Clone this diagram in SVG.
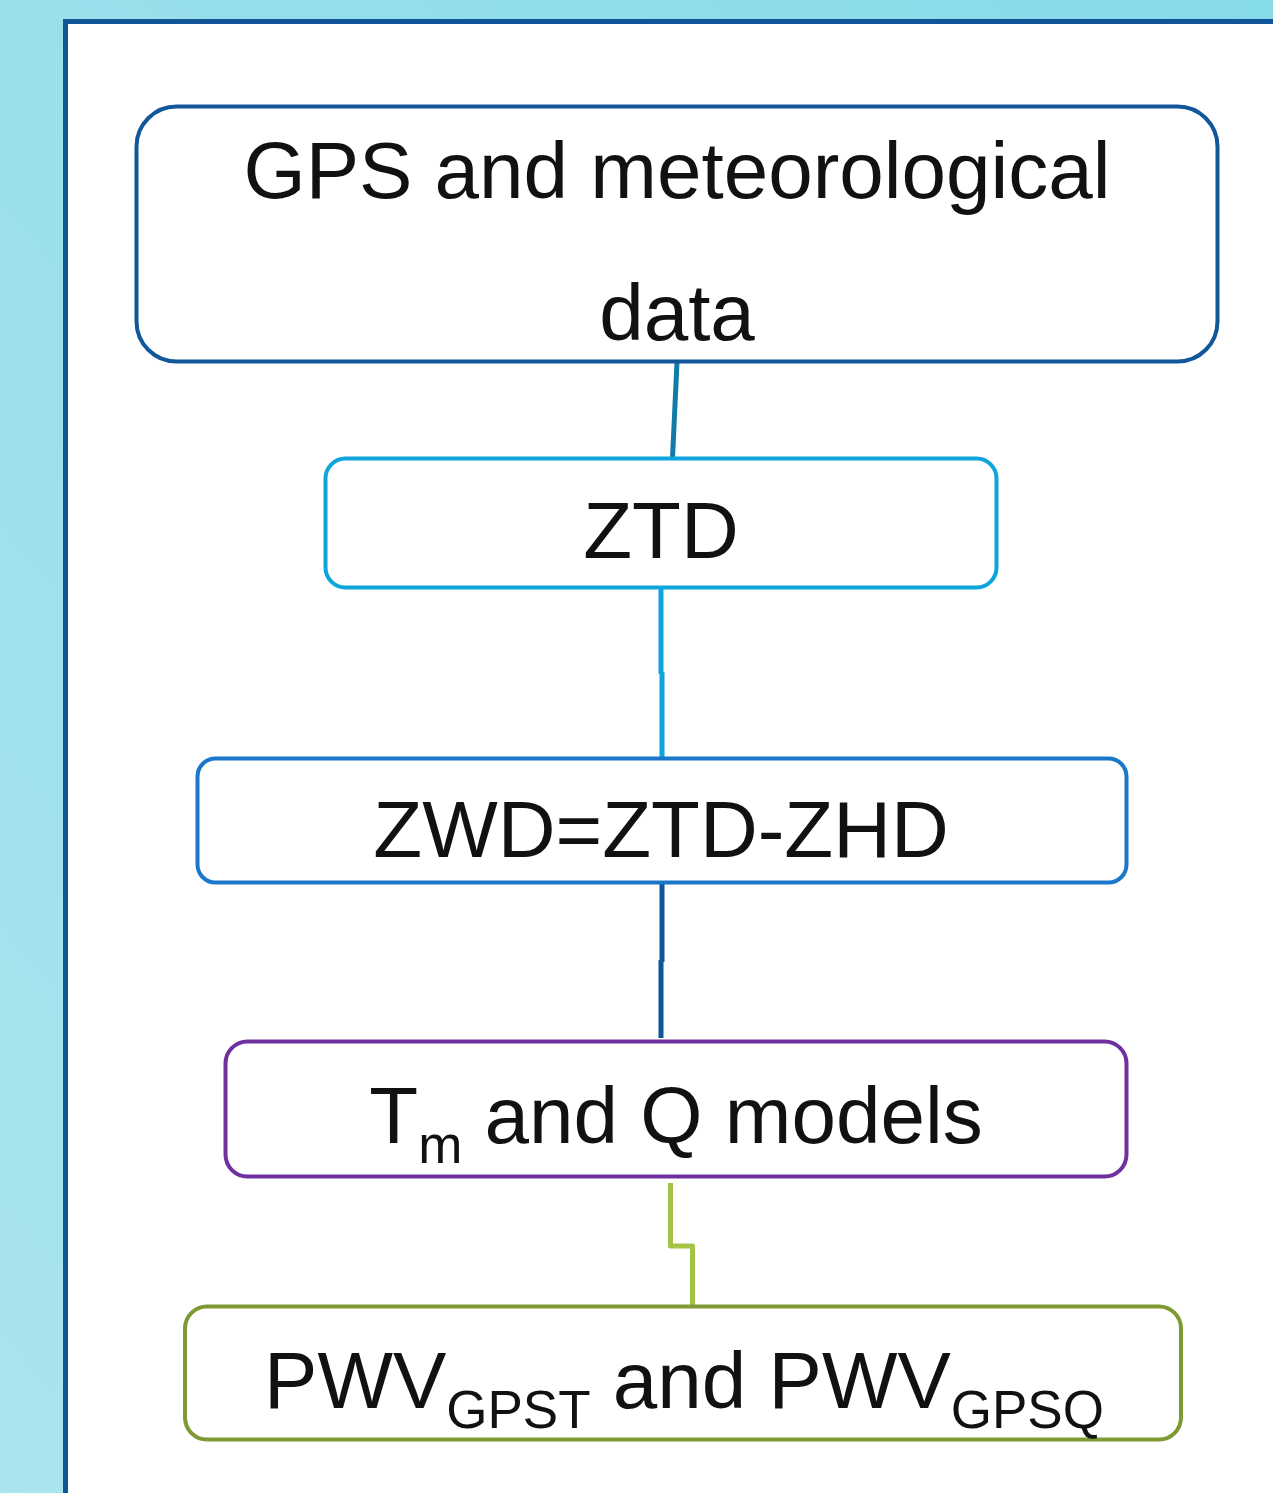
<svg xmlns="http://www.w3.org/2000/svg" width="1273" height="1493" viewBox="0 0 1273 1493">
<defs>
<linearGradient id="bg" x1="1" y1="0" x2="0" y2="1">
<stop offset="0" stop-color="#86dbe9"/>
<stop offset="1" stop-color="#abe4ee"/>
</linearGradient>
</defs>
<style>
.node{fill:#ffffff;stroke-width:4}
.lbl{font-family:"Liberation Sans",Arial,sans-serif;font-size:80px;fill:#111111;text-anchor:middle}
.sub{font-size:53px}
.conn{fill:none;stroke-width:5;stroke-linejoin:round}
</style>
<rect x="0" y="0" width="1273" height="1493" fill="url(#bg)"/>
<rect x="65.5" y="21.5" width="1300" height="1500" fill="#ffffff" stroke="#0f5597" stroke-width="5"/>
<g id="connectors">
<path class="conn" d="M677,362 L672.5,458" stroke="#0f7ca5"/>
<path class="conn" d="M661,588 L661,674 M662,672 L662,758" stroke="#0ea5dc"/>
<path class="conn" d="M662,884 L662,962 M661,960 L661,1038" stroke="#0f5597"/>
<path class="conn" d="M670.5,1183 L670.5,1246 L692.5,1246 L692.5,1308" stroke="#a4c246"/>
</g>
<g id="node1">
<rect class="node" x="136.5" y="106.5" width="1081" height="255" rx="40" stroke="#11579a"/>
<text class="lbl" x="677" y="198">GPS and meteorological</text>
<text class="lbl" x="677" y="340">data</text>
</g>
<g id="node2">
<rect class="node" x="325.5" y="458.5" width="671" height="129" rx="20" stroke="#0ea5dc"/>
<text class="lbl" x="661" y="558">ZTD</text>
</g>
<g id="node3">
<rect class="node" x="197.5" y="758.5" width="929" height="124" rx="18" stroke="#1a77c9"/>
<text class="lbl" x="661" y="857">ZWD=ZTD-ZHD</text>
</g>
<g id="node4">
<rect class="node" x="225.5" y="1041.5" width="901" height="135" rx="22" stroke="#7030a0"/>
<text class="lbl" x="676" y="1143">T<tspan class="sub" dy="20">m</tspan><tspan dy="-20"> and Q models</tspan></text>
</g>
<g id="node5">
<rect class="node" x="185" y="1306.5" width="996" height="133" rx="22" stroke="#7f9a35"/>
<text class="lbl" x="684" y="1408">PWV<tspan class="sub" dy="20">GPST</tspan><tspan dy="-20"> and PWV</tspan><tspan class="sub" dy="20">GPSQ</tspan></text>
</g>
</svg>
